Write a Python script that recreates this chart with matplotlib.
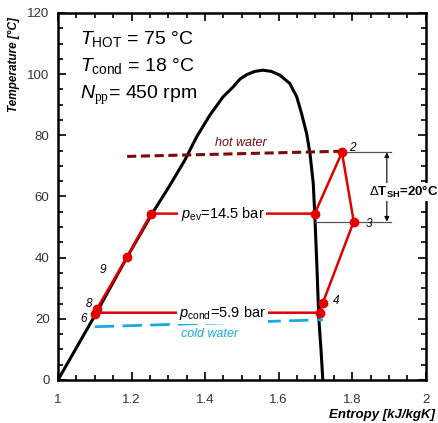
import matplotlib.pyplot as plt
from matplotlib.ticker import MultipleLocator

plt.rcParams['font.family'] = ['Liberation Sans', 'DejaVu Sans']
plt.rcParams['mathtext.fontset'] = 'custom'
plt.rcParams['mathtext.rm'] = 'Liberation Sans'
plt.rcParams['mathtext.it'] = 'Liberation Sans:italic'
plt.rcParams['mathtext.sf'] = 'Liberation Serif'

# saturation dome (entropy kJ/kgK, temperature C)
dome_s = [1.000, 1.050, 1.100, 1.188, 1.255, 1.304, 1.345, 1.377, 1.413, 1.449,
          1.476, 1.495, 1.514, 1.535, 1.557, 1.580, 1.603, 1.630, 1.649, 1.662,
          1.676, 1.685, 1.694, 1.698, 1.704, 1.709, 1.715, 1.720]
dome_t = [0.0, 10.5, 21.0, 40.2, 54.2, 63.6, 71.9, 79.5, 86.6, 92.6,
          95.8, 98.4, 99.9, 100.9, 101.3, 100.9, 99.7, 97.0, 92.6, 87.2,
          80.6, 74.1, 64.3, 54.5, 37.0, 20.3, 10.0, 0.0]

# ORC cycle points: 6, 8, 9, 1, evap sat, 2, 3, 4, 5, 6
cycle_s = [1.100, 1.106, 1.188, 1.253, 1.698, 1.772, 1.804, 1.720, 1.712, 1.100]
cycle_t = [21.5, 23.3, 40.2, 54.4, 54.4, 74.4, 51.8, 25.2, 22.0, 22.0]

hot_s = [1.188, 1.772]
hot_t = [73.1, 74.8]
cold_s = [1.100, 1.720]
cold_t = [17.4, 19.7]

fig = plt.figure(figsize=(4.39, 4.23), dpi=100)
ax = fig.add_axes([0.132, 0.1017, 0.838, 0.8676])

ax.plot(dome_s, dome_t, color='k', lw=2.2, zorder=2)
ax.plot(hot_s, hot_t, color='#7a0a0a', lw=2.2, ls=(0, (3, 1.5)), zorder=2)
ax.plot(cold_s, cold_t, color='#1ba8e0', lw=2.0, ls=(0, (7, 3)), zorder=2)
ax.plot(cycle_s, cycle_t, color='#e00000', lw=1.8, zorder=3)
ax.plot(cycle_s[:-1], cycle_t[:-1], 'o', color='#e00000', ms=6, zorder=4)

# superheat annotation
ax.plot([1.786, 1.905], [cycle_t[5], cycle_t[5]], color='#555555', lw=0.9)
ax.plot([1.70, 1.905], [cycle_t[6], cycle_t[6]], color='#555555', lw=0.9)
ax.annotate('', xy=(1.894, cycle_t[5]), xytext=(1.894, cycle_t[6]),
            arrowprops=dict(arrowstyle='<|-|>', color='k', lw=0.8,
                            mutation_scale=7, shrinkA=0, shrinkB=0))
ax.text(1.940, 61.5, r'$\Delta$T$_{\mathregular{SH}}$=20°C', fontsize=9.5, fontweight='bold',
        ha='center', va='center', clip_on=False,
        bbox=dict(facecolor='white', edgecolor='none', pad=0.5))

ax.text(1.447, 54.4, r'$p_{\mathregular{ev}}$=14.5 bar', fontsize=10.5, ha='center', va='center',
        bbox=dict(facecolor='white', edgecolor='none', pad=1.5), zorder=5)
ax.text(1.447, 22.0, r'$p_{\mathregular{cond}}$=5.9 bar', fontsize=10.5, ha='center', va='center',
        bbox=dict(facecolor='white', edgecolor='none', pad=1.5), zorder=5)

ax.text(1.497, 77.4, 'hot water', color='#7a0a0a', fontsize=9, style='italic', ha='center', va='center')
ax.text(1.412, 15.1, 'cold water', color='#1ba8e0', fontsize=9, style='italic', ha='center', va='center')

for lab, s, t in [('2', 1.800, 76.0), ('3', 1.845, 51.0), ('4', 1.755, 25.8),
                  ('6', 1.070, 20.0), ('8', 1.083, 25.0), ('9', 1.123, 36.0)]:
    ax.text(s, t, lab, fontsize=8.5, style='italic', ha='center', va='center')

ax.text(0.06, 0.93, r'$T_{\mathregular{HOT}}$ = 75 °C', transform=ax.transAxes, fontsize=14, va='center')
ax.text(0.06, 0.855, r'$T_{\mathregular{cond}}$ = 18 °C', transform=ax.transAxes, fontsize=14, va='center')
ax.text(0.06, 0.775, r'$N_{\mathsf{pp}}$= 450 rpm', transform=ax.transAxes, fontsize=14, va='center')

ax.set_xlim(1, 2)
ax.set_ylim(0, 120)
ax.xaxis.set_major_locator(MultipleLocator(0.2))
ax.xaxis.set_minor_locator(MultipleLocator(0.05))
ax.yaxis.set_major_locator(MultipleLocator(20))
ax.yaxis.set_minor_locator(MultipleLocator(5))
ax.set_xticks([1, 1.2, 1.4, 1.6, 1.8, 2])
ax.set_xticklabels(['1', '1.2', '1.4', '1.6', '1.8', '2'])
ax.tick_params(which='both', direction='in', top=True, right=True, labelsize=9.5, labelcolor='#333333')
ax.tick_params(axis='x', which='major', pad=10)
ax.tick_params(axis='y', which='major', pad=6)
ax.tick_params(which='major', length=6, width=1.2)
ax.tick_params(which='minor', length=3.5, width=1.2)
for sp in ax.spines.values():
    sp.set_linewidth(1.8)

ax.set_ylabel('Temperature [°C]', fontsize=8.5, fontweight='bold', style='italic')
ax.yaxis.set_label_coords(-0.103, 0.86)
ax.set_xlabel('Entropy [kJ/kgK]', fontsize=9.5, fontweight='bold', style='italic')
ax.xaxis.set_label_coords(1.024, -0.095)
ax.xaxis.label.set_ha('right')
ax.xaxis.label.set_va('center')

fig.savefig('out.png', dpi=100)
